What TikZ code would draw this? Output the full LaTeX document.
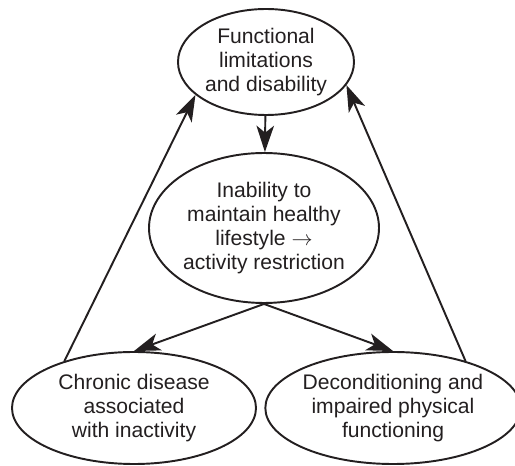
\documentclass[tikz,border=0pt]{standalone}
\usepackage{fontspec}
\setmainfont{Liberation Sans}
\usetikzlibrary{arrows.meta,shapes.geometric}
\definecolor{ink}{RGB}{35,31,32}

\begin{document}
\begin{tikzpicture}[>={Stealth[length=15pt,width=10pt,inset=4pt]}, line cap=round, line join=round,
	oval/.style={ellipse, draw=ink, text=ink, line width=1.1pt, inner sep=0pt, align=center,
		font=\fontsize{12}{13.8}\selectfont},
	link/.style={->, draw=ink, fill=ink, line width=1.1pt}]
		
		\useasboundingbox (0,0) rectangle (10.3,9.32);
		
		% Top: the outcome
		\node[oval, minimum width=3.52cm, minimum height=2.12cm] (limits) at (5.32,8.08)
			{Functional\\limitations\\and disability};
		
		% Middle: the restriction
		\node[oval, minimum width=4.6cm, minimum height=3.0cm] (lifestyle) at (5.28,4.76)
			{Inability to\\maintain healthy\\lifestyle $\rightarrow$\\activity restriction};
		
		% Bottom: the two consequences
		\node[oval, minimum width=4.88cm, minimum height=2.24cm] (disease) at (2.68,1.16)
			{Chronic disease\\associated\\with inactivity};
		\node[oval, minimum width=4.8cm, minimum height=2.24cm] (decond) at (7.86,1.16)
			{Deconditioning and\\impaired physical\\functioning};
		
		\draw[link] (limits) -- (lifestyle);
		\draw[link] (lifestyle.south) -- (disease.north);
		\draw[link] (lifestyle.south) -- (decond.north);
		
		% Feedback back up to the top
		\draw[link] (disease.146) -- (limits.205);
		\draw[link] (decond.33) -- (limits.344);
		
	\end{tikzpicture}
\end{document}
